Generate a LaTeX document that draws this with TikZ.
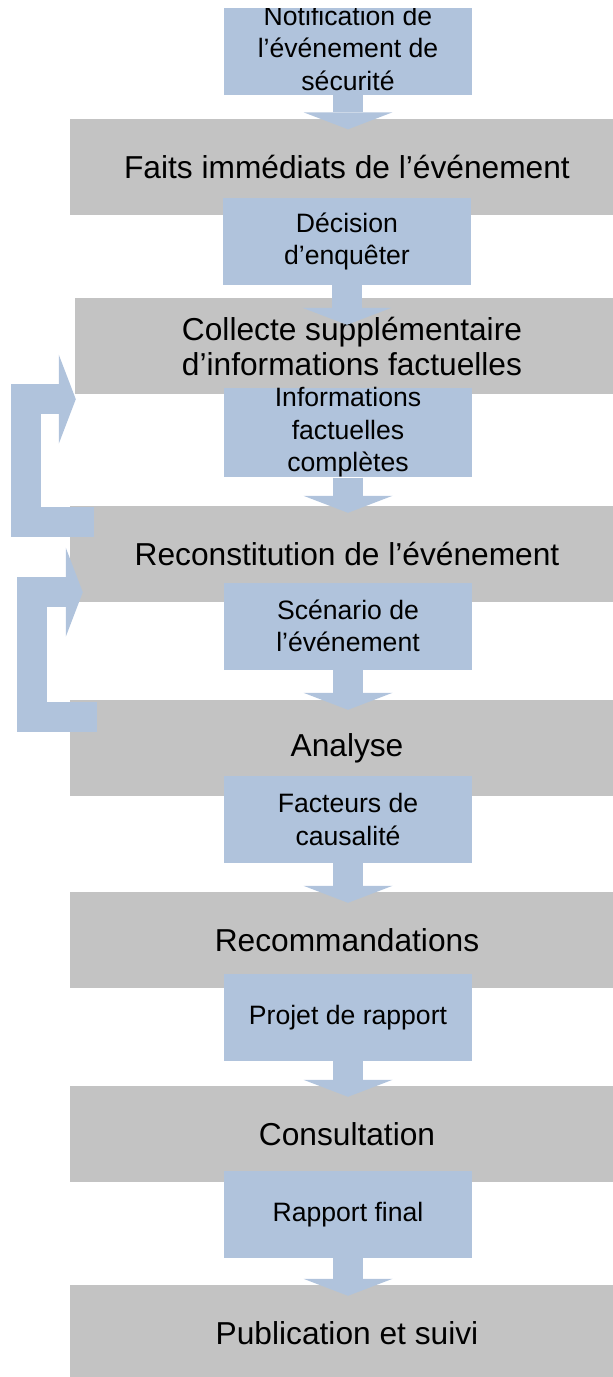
\documentclass[tikz,border=0pt]{standalone}
\usepackage{fontspec}
\setmainfont{Liberation Sans}
\usetikzlibrary{arrows.meta}

\definecolor{stagegrey}{RGB}{195,195,195}
\definecolor{stepblue}{RGB}{176,195,220}

\tikzset{
    phasebox/.style={fill=stagegrey, minimum width=554pt, minimum height=96pt,
        inner sep=0pt, align=center, font=\fontsize{31.7}{35}\selectfont},
    resultbox/.style={fill=stepblue, minimum width=248pt, minimum height=87pt,
        inner sep=0pt, align=center, font=\fontsize{26.6}{32.5}\selectfont},
    flowarrow/.style={draw=stepblue, line width=30pt, shorten >=-11pt,
        -{Triangle[width=89pt,length=17pt,line width=0pt]}},
    backarrow/.style={draw=stepblue, line width=30pt,
        -{Triangle[width=89pt,length=17pt,line width=0pt]}},
}

\begin{document}
\begin{tikzpicture}[x=1pt, y=-1pt]
            \useasboundingbox (0,0) rectangle (613,1377);
            \clip (0,8) rectangle (613,1377);

            % stages (grey bands)
            \node[phasebox] (faits) at (347,166.5) {Faits immédiats de l’événement};
            \node[phasebox] (collecte) at (352,346) {Collecte supplémentaire\\d’informations factuelles};
            \node[phasebox] (recon) at (347,554) {Reconstitution de l’événement};
            \node[phasebox] (analyse) at (347,748) {Analyse};
            \node[phasebox] (recomm) at (347,940) {Recommandations};
            \node[phasebox] (consult) at (347,1134) {Consultation};
            \node[phasebox] (public) at (347,1333) {Publication et suivi};

            % results (blue boxes); the first one runs past the top edge
            \node[resultbox, minimum height=93pt] (notif) at (348,48) {Notification de\\l’événement de\\sécurité};
            \node[resultbox] (decision) at (347,241.5) {Décision\\d’enquêter};
            \node[resultbox] (infos) at (348,432.5) {Informations\\factuelles\\complètes};
            \node[resultbox] (scenario) at (348,626) {Scénario de\\l’événement};
            \node[resultbox] (facteurs) at (348,819.5) {Facteurs de\\causalité};
            \node[resultbox] (projet) at (348,1017.5) {Projet de rapport};
            \node[resultbox] (rapport) at (348,1214.5) {Rapport final};

            % main flow
            \draw[flowarrow] (notif.south) -- (notif.south |- faits.north);
            \draw[flowarrow, shorten >=-27pt] (decision.south) -- (decision.south |- collecte.north);
            \draw[flowarrow, shorten >=-7pt] (infos.south) -- (infos.south |- recon.north);
            \draw[flowarrow, shorten >=-10pt] (scenario.south) -- (scenario.south |- analyse.north);
            \draw[flowarrow] (facteurs.south) -- (facteurs.south |- recomm.north);
            \draw[flowarrow] (projet.south) -- (projet.south |- consult.north);
            \draw[flowarrow] (rapport.south) -- (rapport.south |- public.north);

            % feedback loops
            \draw[backarrow] ([shift={(24,16)}]recon.north west) -| ([shift={(-49,5)}]collecte.south west)
                -- ([shift={(1,5)}]collecte.south west); % recon -> collecte
            \draw[backarrow] ([shift={(27,17)}]analyse.north west) -| ([shift={(-38,-10)}]recon.south west)
                -- ([shift={(13,-10)}]recon.south west); % analyse -> recon
        \end{tikzpicture}
\end{document}
